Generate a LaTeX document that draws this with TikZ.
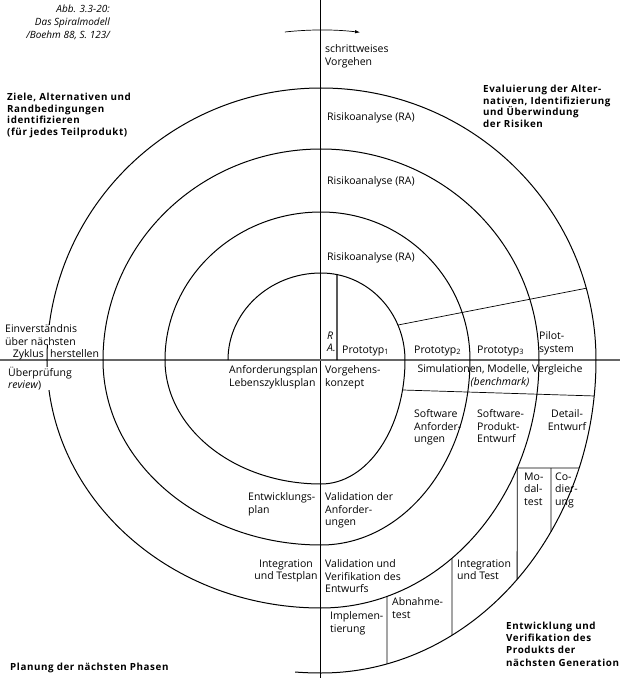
\documentclass[tikz,border=0pt]{standalone}
\usepackage{fontspec}
\setmainfont{Open Sans}
\newfontfamily\spacedfont[LetterSpace=6]{Open Sans}
\usetikzlibrary{arrows.meta}

\tikzset{
  txt/.style={font=\fontsize{10.5}{12.5}\selectfont, inner sep=0pt, align=left, anchor=north west},
  head/.style={font=\spacedfont\bfseries\fontsize{9.8}{11.5}\selectfont, inner sep=0pt, align=left, anchor=north west},
  capt/.style={font=\itshape\fontsize{10}{13}\selectfont, inner sep=0pt, align=right, anchor=north east},
  spiral/.style={line width=1pt},
  divider/.style={line width=0.9pt},
  thinline/.style={line width=0.7pt}
}

\begin{document}
\begin{tikzpicture}[x=1pt,y=1pt]
\useasboundingbox (-321,-318) rectangle (299,360);
% axes
\draw[line width=1pt] (0,360) -- (0,-318);
\draw[line width=1.1pt, black!60] (-321,0) -- (299,0);
% the spiral, one quarter ellipse after the other
\draw[spiral] (-93,0)
  arc[start angle=180, end angle=90, x radius=93pt, y radius=87pt]
  arc[start angle=90, end angle=0, x radius=84pt, y radius=87pt]
  arc[start angle=0, end angle=-90, x radius=84pt, y radius=124pt]
  arc[start angle=270, end angle=180, x radius=156pt, y radius=124pt]
  arc[start angle=180, end angle=90, x radius=156pt, y radius=148pt]
  arc[start angle=90, end angle=0, x radius=149pt, y radius=148pt]
  arc[start angle=0, end angle=-90, x radius=149pt, y radius=185pt]
  arc[start angle=270, end angle=180, x radius=218pt, y radius=185pt]
  arc[start angle=180, end angle=90, x radius=218pt, y radius=211pt]
  arc[start angle=90, end angle=0, x radius=218pt, y radius=211pt]
  arc[start angle=0, end angle=-90, x radius=218pt, y radius=248pt]
  arc[start angle=270, end angle=180, x radius=274pt, y radius=248pt]
  arc[start angle=180, end angle=90, x radius=274pt, y radius=272pt]
  arc[start angle=90, end angle=0, x radius=275pt, y radius=272pt]
  arc[start angle=0, end angle=-90, x radius=275pt, y radius=313pt]
  arc[start angle=270, end angle=265.5, x radius=330pt, y radius=313pt];
% direction of the spiral
\draw[thinline, -{Latex[length=5pt,width=3.5pt]}] (96.3:330pt)
  arc[start angle=96.3, end angle=83.2, radius=330pt];

% RA strip and prototype band
\coordinate (raTop) at ({acos(16/84)}:84pt and 87pt);
\coordinate (raBot) at (16,0);
\draw[line width=1.3pt] (raTop) -- (raBot);
\coordinate (protoIn) at (23.7:84pt and 87pt);
\coordinate (protoOut) at (15.3:275pt and 272pt);
\draw[thinline] (protoIn) -- (protoOut);
\coordinate (simIn) at (-14:84pt and 124pt);
\coordinate (simOut) at (-6.6:275pt and 313pt);
\draw[thinline] (simIn) -- (simOut);

% cells of the last band
\coordinate (abnTop) at ({-acos(66/218)}:218pt and 248pt);
\coordinate (abnBot) at ({-acos(66/275)}:275pt and 313pt);
\draw[divider] (abnTop) -- (abnBot);
\coordinate (intTop) at ({-acos(131/218)}:218pt and 248pt);
\coordinate (intBot) at ({-acos(131/275)}:275pt and 313pt);
\draw[divider] (intTop) -- (intBot);
\coordinate (modTop) at ({asin(-108/248)}:218pt and 248pt);
\coordinate (modBot) at ({-acos(196.2/275)}:275pt and 313pt);
\coordinate (modRight) at ({asin(-108/313)}:275pt and 313pt);
\draw[divider] (modBot) -- (modTop) -- (modRight);
\coordinate (codTop) at (230,-108);
\coordinate (codBot) at ({-acos(230/275)}:275pt and 313pt);
\draw[divider] (codTop) -- (codBot);

% texts
\node[capt] (caption) at (-211,355) {Abb. 3.3-20:\\Das Spiralmodell\\/Boehm 88, S. 123/};
\node[txt] (stepwise) at (4,315.5) {schrittweises\\Vorgehen};
\node[head] (goals) at (-314,267) {Ziele, Alternativen und\\Randbedingungen\\identifizieren\\(für jedes Teilprodukt)};
\node[head] (risks) at (162,275) {Evaluierung der Alter-\\nativen, Identifizierung\\und Überwindung\\der Risiken};
\node[txt] (raOne) at (6,247.5) {Risikoanalyse (RA)};
\node[txt] (raTwo) at (6,183.5) {Risikoanalyse (RA)};
\node[txt] (raThree) at (6,107.5) {Risikoanalyse (RA)};
\node[txt, font=\itshape\fontsize{10.5}{12}\selectfont] (raShort) at (6,28) {R\\A.};
\node[txt] (protoOne) at (21,14.5) {Prototyp\textsubscript{1}};
\node[txt] (protoTwo) at (93,14.5) {Prototyp\textsubscript{2}};
\node[txt] (protoThree) at (156,14.5) {Prototyp\textsubscript{3}};
\node[txt] (pilot) at (218,28.5) {Pilot-\\system};
\node[txt, fill=white] (agree) at (-316,35.5) {Einverständnis\\über nächsten};
\node[txt, anchor=north east] (cycle) at (-277,10.5) {Zyklus};
\node[txt] (establish) at (-271,10.5) {herstellen};
\node[txt, fill=white] (review) at (-313,-6.5) {Überprüfung\\\textit{review})};
\node[txt] (reqPlan) at (-92,-5.5) {Anforderungsplan\\Lebenszyklusplan};
\node[txt] (concept) at (4,-5.5) {Vorgehens-\\konzept};
\node[txt, align=center, anchor=north] (sim) at (179,-4.5) {Simulationen, Modelle, Vergleiche\\\textit{(benchmark)}};
\node[txt] (swReq) at (93,-49.5) {Software\\Anforder-\\ungen};
\node[txt] (swDesign) at (156,-49.5) {Software-\\Produkt-\\Entwurf};
\node[txt, align=center, anchor=north] (detail) at (246,-49.5) {Detail-\\Entwurf};
\node[txt] (modTest) at (203,-112.5) {Mo-\\dal-\\test};
\node[txt] (coding) at (234,-112.5) {Co-\\dier-\\ung};
\node[txt] (valReq) at (4,-132.5) {Validation der\\Anforder-\\ungen};
\node[txt] (devPlan) at (-73,-132.5) {Entwicklungs-\\plan};
\node[txt, align=center, anchor=north] (intPlan) at (-35,-199.5) {Integration\\und Testplan};
\node[txt] (valVer) at (4,-199.5) {Validation und\\Verifikation des\\Entwurfs};
\node[txt] (intTest) at (136,-199.5) {Integration\\und Test};
\node[txt] (accept) at (71,-237.5) {Abnahme-\\test};
\node[txt] (impl) at (9,-251.5) {Implemen-\\tierung};
\node[head, font=\spacedfont\bfseries\fontsize{9.8}{12.4}\selectfont] (develop) at (185,-261.5) {Entwicklung und\\Verifikation des\\Produkts der\\nächsten Generation};
\node[head] (nextPlan) at (-311,-302.5) {Planung der nächsten Phasen};
\end{tikzpicture}
\end{document}
